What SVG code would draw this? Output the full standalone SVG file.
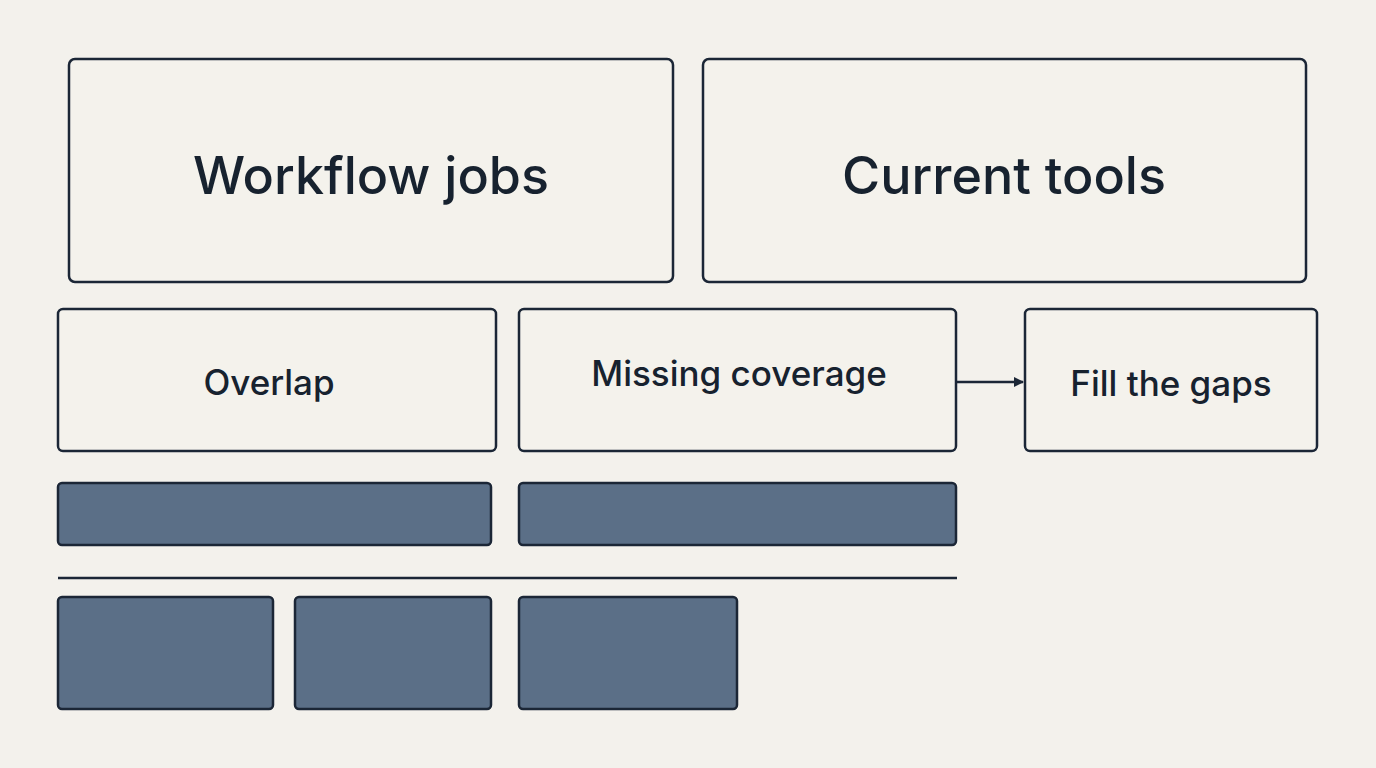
<svg xmlns="http://www.w3.org/2000/svg" width="1376" height="768" viewBox="0 0 1376 768">
<defs>
<style>
.box{fill:#f4f2ec;stroke:#1b2636;stroke-width:2.5}
.bar{fill:#5b6f87;stroke:#1b2636;stroke-width:2.5}
text{font-family:Inter,"Noto Sans","Liberation Sans",sans-serif;fill:#17222f;text-anchor:middle;dominant-baseline:central;font-weight:500}
.big{font-size:52px}
.mid{font-size:35px}
</style>
<marker id="ah" markerWidth="10" markerHeight="10" refX="9" refY="5" orient="auto" markerUnits="userSpaceOnUse"><path d="M0,0 L10,5 L0,10 Z" fill="#1b2636"/></marker>
</defs>
<rect width="1376" height="768" fill="#f3f1ec"/>
<g id="workflow-jobs"><rect class="box" x="69" y="59" width="604" height="223" rx="6"/><text class="big" x="371" y="175">Workflow jobs</text></g>
<g id="current-tools"><rect class="box" x="703" y="59" width="603" height="223" rx="6"/><text class="big" x="1004" y="175">Current tools</text></g>
<g id="overlap"><rect class="box" x="58" y="309" width="438" height="142" rx="5"/><text class="mid" x="269" y="382">Overlap</text></g>
<g id="missing-coverage"><rect class="box" x="519" y="309" width="437" height="142" rx="5"/><text class="mid" x="739" y="373">Missing coverage</text></g>
<g id="fill-the-gaps"><rect class="box" x="1025" y="309" width="292" height="142" rx="5"/><text class="mid" x="1171" y="383">Fill the gaps</text></g>
<g id="bar-1"><rect class="bar" x="58" y="483" width="433" height="62" rx="4"/></g>
<g id="bar-2"><rect class="bar" x="519" y="483" width="437" height="62" rx="4"/></g>
<g id="block-1"><rect class="bar" x="58" y="597" width="215" height="112" rx="4"/></g>
<g id="block-2"><rect class="bar" x="295" y="597" width="196" height="112" rx="4"/></g>
<g id="block-3"><rect class="bar" x="519" y="597" width="218" height="112" rx="4"/></g>
<g id="connectors">
<line x1="957" y1="382" x2="1023" y2="382" stroke="#1b2636" stroke-width="2.5" marker-end="url(#ah)"/>
<line x1="58" y1="578" x2="957" y2="578" stroke="#1b2636" stroke-width="2.5"/>
</g>
</svg>
